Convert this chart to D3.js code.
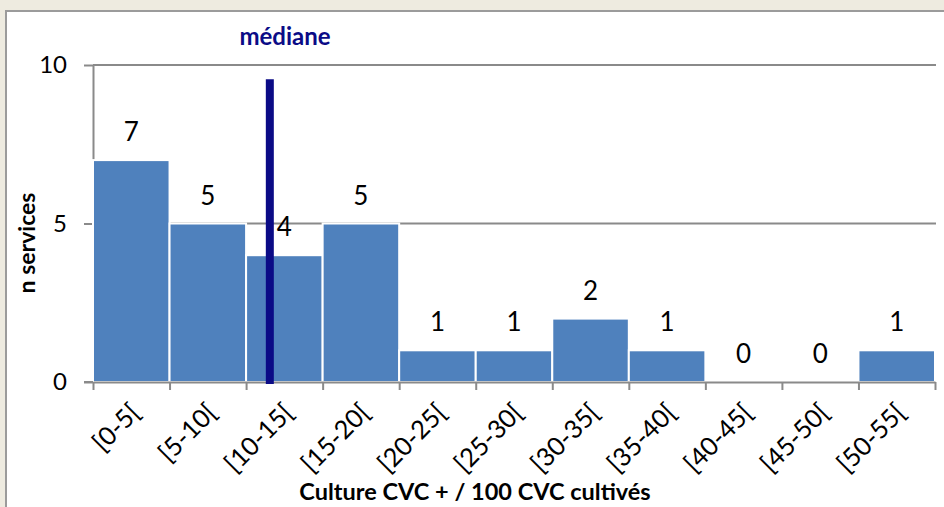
<!DOCTYPE html>
<html>
<head>
<meta charset="utf-8">
<script src="https://cdn.jsdelivr.net/npm/d3@7"></script>
<style>
  html, body { margin: 0; padding: 0; background: #eeebe0; }
  svg { display: block; }
</style>
</head>
<body>
<div class="container"></div>
<script>
const categories = ["[0-5[", "[5-10[", "[10-15[", "[15-20[", "[20-25[", "[25-30[", "[30-35[", "[35-40[", "[40-45[", "[45-50[", "[50-55["];
const counts = [7, 5, 4, 5, 1, 1, 2, 1, 0, 0, 1];
const yTicks = [0, 5, 10];
const medianValue = 11.55;   // position on the 0-55 axis
const medianTop = 9.55;

const WIDTH = 944, HEIGHT = 507;
const MARGIN = { top: 65, right: 9, bottom: 125, left: 93 };
const FONT = "Lato, 'Open Sans', sans-serif";
const GRID = "#8a8a8a";
const BAR = "#4f81bd";
const NAVY = "#0b0b86";

const svg = d3.select(".container").append("svg")
  .attr("width", WIDTH)
  .attr("height", HEIGHT);

// panel
svg.append("rect")
  .attr("x", 6).attr("y", 11)
  .attr("width", WIDTH).attr("height", HEIGHT)
  .attr("fill", "#fff")
  .attr("stroke", "#9b9b9b")
  .attr("stroke-width", 2);

const x = d3.scaleBand()
  .domain(categories)
  .range([MARGIN.left, WIDTH - MARGIN.right])
  .padding(0);

const xLin = d3.scaleLinear()
  .domain([0, 55])
  .range([MARGIN.left, WIDTH - MARGIN.right]);

const y = d3.scaleLinear()
  .domain([0, 10])
  .range([HEIGHT - MARGIN.bottom, MARGIN.top]);

// y axis
const yAxis = svg.append("g")
  .attr("transform", `translate(${MARGIN.left},0)`)
  .call(d3.axisLeft(y)
    .tickValues(yTicks)
    .tickSize(9)
    .tickSizeOuter(0)
    .tickPadding(17));
yAxis.select(".domain").attr("stroke", GRID).attr("stroke-width", 2);
yAxis.selectAll(".tick line").attr("stroke", GRID).attr("stroke-width", 2);
yAxis.selectAll(".tick text")
  .attr("font-family", FONT)
  .attr("font-size", 24)
  .attr("fill", "#000");

// gridlines
svg.append("g")
  .selectAll("line")
  .data(yTicks.filter(d => d > 0))
  .enter()
  .append("line")
  .attr("x1", MARGIN.left)
  .attr("x2", WIDTH - MARGIN.right + 1)
  .attr("y1", d => y(d))
  .attr("y2", d => y(d))
  .attr("stroke", GRID)
  .attr("stroke-width", 2);

// bars
svg.append("g")
  .selectAll("rect")
  .data(counts)
  .enter()
  .append("rect")
  .attr("x", (d, i) => x(categories[i]))
  .attr("y", d => y(d))
  .attr("width", x.bandwidth())
  .attr("height", d => y(0) - y(d))
  .attr("fill", BAR)
  .attr("stroke", "#fff")
  .attr("stroke-width", 2);

// x axis
const xAxis = svg.append("g")
  .attr("transform", `translate(0,${y(0)})`)
  .call(d3.axisBottom(xLin)
    .tickValues(d3.range(0, 56, 5))
    .tickSize(8)
    .tickSizeOuter(0)
    .tickFormat(""));
xAxis.select(".domain").attr("stroke", GRID).attr("stroke-width", 2);
xAxis.selectAll(".tick line").attr("stroke", GRID).attr("stroke-width", 2);

svg.append("line")
  .attr("x1", MARGIN.left - 9)
  .attr("x2", MARGIN.left)
  .attr("y1", y(0))
  .attr("y2", y(0))
  .attr("stroke", GRID)
  .attr("stroke-width", 2);

// category labels
svg.append("g")
  .selectAll("text")
  .data(categories)
  .enter()
  .append("text")
  .attr("transform", d => `translate(${x(d) + x.bandwidth() / 2 + 4},${y(0) + 26}) rotate(-45)`)
  .attr("text-anchor", "end")
  .attr("dy", "0.35em")
  .attr("font-family", FONT)
  .attr("font-size", 25.5)
  .attr("fill", "#000")
  .text(d => d);

// value labels
svg.append("g")
  .selectAll("text")
  .data(counts)
  .enter()
  .append("text")
  .attr("x", (d, i) => x(categories[i]) + x.bandwidth() / 2)
  .attr("y", d => y(d) - 19)
  .attr("text-anchor", "middle")
  .attr("font-family", FONT)
  .attr("font-size", 26)
  .attr("fill", "#000")
  .text(d => d);

// median
svg.append("line")
  .attr("x1", xLin(medianValue))
  .attr("x2", xLin(medianValue))
  .attr("y1", y(medianTop))
  .attr("y2", y(0) + 2)
  .attr("stroke", NAVY)
  .attr("stroke-width", 8);

svg.append("text")
  .attr("x", 285)
  .attr("y", 45)
  .attr("text-anchor", "middle")
  .attr("font-family", FONT)
  .attr("font-weight", "bold")
  .attr("font-size", 24)
  .attr("fill", NAVY)
  .text("médiane");

// axis titles
svg.append("text")
  .attr("transform", "translate(35,243) rotate(-90)")
  .attr("text-anchor", "middle")
  .attr("font-family", FONT)
  .attr("font-weight", "bold")
  .attr("font-size", 23)
  .attr("fill", "#000")
  .text("n services");

svg.append("text")
  .attr("x", 475)
  .attr("y", 500)
  .attr("text-anchor", "middle")
  .attr("font-family", FONT)
  .attr("font-weight", "bold")
  .attr("font-size", 23.5)
  .attr("fill", "#000")
  .text("Culture CVC + / 100 CVC cultivés");
</script>
</body>
</html>
